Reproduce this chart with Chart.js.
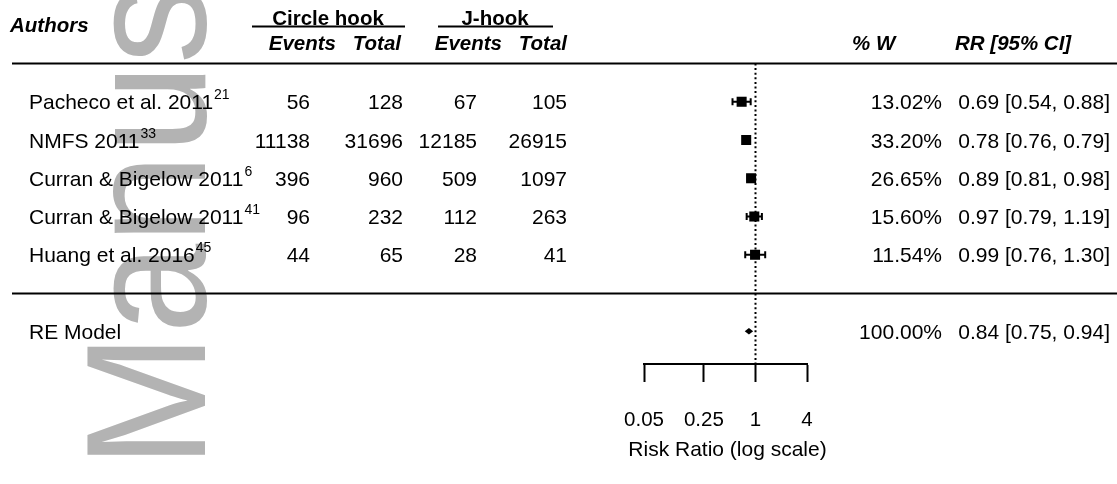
<!DOCTYPE html>
<html>
<head>
<meta charset="utf-8">
<script src="https://cdn.jsdelivr.net/npm/chart.js@4/dist/chart.umd.min.js"></script>
<style>
  html, body { margin: 0; padding: 0; background: #fff; }
  canvas { display: block; }
</style>
</head>
<body>
<canvas id="forest" width="1117" height="484"></canvas>
<script>
// studies, top to bottom
const authors = ["Pacheco et al. 2011", "NMFS 2011", "Curran & Bigelow 2011", "Curran & Bigelow 2011", "Huang et al. 2016"];
const refs = ["21", "33", "6", "41", "45"];
const circleEvents = [56, 11138, 396, 96, 44];
const circleTotal = [128, 31696, 960, 232, 65];
const jEvents = [67, 12185, 509, 112, 28];
const jTotal = [105, 26915, 1097, 263, 41];
const weights = [13.02, 33.20, 26.65, 15.60, 11.54];
const rr = [0.69, 0.78, 0.89, 0.97, 0.99];
const lower = [0.54, 0.76, 0.81, 0.79, 0.76];
const upper = [0.88, 0.79, 0.98, 1.19, 1.30];

// RE model: estimate, lower, upper
const pooled = [0.84, 0.75, 0.94];
const pooledWeight = 100;

const xTicks = [0.05, 0.25, 1, 4];
const xTitle = "Risk Ratio (log scale)";

const FONT = "'Liberation Sans', Arial, Helvetica, sans-serif";
const n = authors.length;
const rows = authors.map((a, i) => n - i);   // 5..1
const reRow = -1;

const fmt2 = v => v.toFixed(2);
const ciText = (e, l, h) => `${fmt2(e)} [${fmt2(l)}, ${fmt2(h)}]`;

const forestPlugin = {
  id: "forest",
  beforeDraw(chart) {
    // "Manus" watermark
    const ctx = chart.ctx;
    ctx.save();
    ctx.fillStyle = "#b3b3b3";
    ctx.translate(205, 468);
    ctx.rotate(-Math.PI / 2);
    ctx.scale(0.95, 1);
    ctx.font = `170px ${FONT}`;
    ctx.textBaseline = "alphabetic";
    ctx.fillText("Manus", 0, 0);
    ctx.restore();
  },
  afterDatasetsDraw(chart) {
    const ctx = chart.ctx;
    const xs = chart.scales.x, ys = chart.scales.y;
    ctx.save();
    // reference line at RR = 1
    ctx.strokeStyle = "#000";
    ctx.lineWidth = 2;
    ctx.setLineDash([2, 2.6]);
    ctx.beginPath();
    const x1 = Math.round(xs.getPixelForValue(1)) + 0.5;
    ctx.moveTo(x1, ys.getPixelForValue(n + 1));
    ctx.lineTo(x1, chart.chartArea.bottom);
    ctx.stroke();
    ctx.setLineDash([]);

    // confidence intervals
    ctx.lineWidth = 2;
    rows.forEach((r, i) => {
      const y = ys.getPixelForValue(r);
      const a = xs.getPixelForValue(lower[i]);
      const b = xs.getPixelForValue(upper[i]);
      ctx.beginPath();
      ctx.moveTo(a, y); ctx.lineTo(b, y);
      ctx.moveTo(a, y - 3.5); ctx.lineTo(a, y + 3.5);
      ctx.moveTo(b, y - 3.5); ctx.lineTo(b, y + 3.5);
      ctx.stroke();
    });

    // pooled diamond
    const yr = ys.getPixelForValue(reRow);
    const h = ys.getPixelForValue(reRow) - ys.getPixelForValue(reRow + 0.085);
    ctx.fillStyle = "#000";
    ctx.beginPath();
    ctx.moveTo(xs.getPixelForValue(pooled[1]), yr);
    ctx.lineTo(xs.getPixelForValue(pooled[0]), yr - h);
    ctx.lineTo(xs.getPixelForValue(pooled[2]), yr);
    ctx.lineTo(xs.getPixelForValue(pooled[0]), yr + h);
    ctx.closePath();
    ctx.fill();
    ctx.restore();
  },
  afterDraw(chart) {
    const ctx = chart.ctx;
    const ys = chart.scales.y;
    const area = chart.chartArea;
    const W = chart.width;
    ctx.save();
    ctx.fillStyle = "#000";
    ctx.strokeStyle = "#000";

    // axis title (drawn here so it is not squeezed to the axis width)
    ctx.font = `21px ${FONT}`;
    ctx.textAlign = "center";
    ctx.textBaseline = "alphabetic";
    ctx.fillText(xTitle, (area.left + area.right) / 2 + 2, 456);

    // horizontal rules
    ctx.lineWidth = 2;
    [n + 1, 0].forEach(r => {
      const y = Math.round(ys.getPixelForValue(r)) + 0.5;
      ctx.beginPath(); ctx.moveTo(12, y); ctx.lineTo(W, y); ctx.stroke();
    });

    // header
    const yTop = ys.getPixelForValue(n + 2.15);
    const yAuth = ys.getPixelForValue(n + 1.97);
    const ySub = ys.getPixelForValue(n + 1.5);
    ctx.textBaseline = "middle";
    ctx.font = `italic bold 20.5px ${FONT}`;
    ctx.textAlign = "left";
    ctx.fillText("Authors", 10, yAuth);
    ctx.fillText("% W", 852, ySub);
    ctx.fillText("RR [95% CI]", 955, ySub);
    ctx.textAlign = "right";
    ctx.fillText("Events", 336, ySub);
    ctx.fillText("Total", 401, ySub);
    ctx.fillText("Events", 502, ySub);
    ctx.fillText("Total", 567, ySub);

    ctx.font = `bold 20.5px ${FONT}`;
    ctx.textAlign = "center";
    ctx.fillText("Circle hook", 328, yTop);
    ctx.fillText("J-hook", 495, yTop);
    const yUl = Math.round(ys.getPixelForValue(n + 1.97)) + 0.5;
    ctx.lineWidth = 2;
    ctx.beginPath();
    ctx.moveTo(252, yUl); ctx.lineTo(405, yUl);
    ctx.moveTo(438, yUl); ctx.lineTo(553, yUl);
    ctx.stroke();

    // study rows
    const cols = [circleEvents, circleTotal, jEvents, jTotal];
    const colRight = [310, 403, 477, 567];
    rows.forEach((r, i) => {
      const base = ys.getPixelForValue(r) + 7.5;
      ctx.textBaseline = "alphabetic";
      ctx.font = `21px ${FONT}`;
      ctx.textAlign = "left";
      ctx.fillText(authors[i], 29, base);
      const w = ctx.measureText(authors[i]).width;
      ctx.font = `14px ${FONT}`;
      ctx.fillText(refs[i], 29 + w + 1, base - 10);
      ctx.font = `21px ${FONT}`;
      ctx.textAlign = "right";
      cols.forEach((c, k) => ctx.fillText(String(c[i]), colRight[k], base));
      ctx.fillText(fmt2(weights[i]) + "%", 942, base);
      ctx.fillText(ciText(rr[i], lower[i], upper[i]), 1110, base);
    });

    // RE model row
    const baseRE = ys.getPixelForValue(reRow) + 7.5;
    ctx.textAlign = "left";
    ctx.fillText("RE Model", 29, baseRE);
    ctx.textAlign = "right";
    ctx.fillText(fmt2(pooledWeight) + "%", 942, baseRE);
    ctx.fillText(ciText(pooled[0], pooled[1], pooled[2]), 1110, baseRE);
    ctx.restore();
  }
};

Chart.defaults.font.family = FONT;
Chart.defaults.color = "#000";

new Chart(document.getElementById("forest"), {
  type: "scatter",
  data: {
    datasets: [{
      label: "RR",
      data: rr.map((v, i) => ({ x: v, y: rows[i] })),
      pointStyle: "rect",
      pointRadius: 7.1,
      pointHoverRadius: 7.1,
      backgroundColor: "#000",
      borderColor: "#000",
      borderWidth: 0
    }]
  },
  options: {
    responsive: false,
    animation: false,
    events: [],
    layout: { autoPadding: false, padding: { left: 644, right: 310, top: 0, bottom: 0 } },
    plugins: { legend: { display: false }, tooltip: { enabled: false } },
    scales: {
      x: {
        type: "logarithmic",
        min: xTicks[0],
        max: xTicks[xTicks.length - 1],
        afterBuildTicks: s => { s.ticks = xTicks.map(v => ({ value: v })); },
        afterFit: s => { s.height = 120; },
        ticks: {
          autoSkip: false,
          maxRotation: 0,
          padding: 26,
          color: "#000",
          font: { size: 20.5 },
          callback: v => String(v)
        },
        grid: {
          display: true,
          drawOnChartArea: false,
          drawTicks: true,
          tickLength: 18,
          tickWidth: 2,
          tickColor: "#000"
        },
        border: { display: true, color: "#000", width: 2 },
        title: { display: false, text: xTitle }
      },
      y: {
        type: "linear",
        display: false,
        min: -1.856,
        max: 7.66
      }
    }
  },
  plugins: [forestPlugin]
});
</script>
</body>
</html>
